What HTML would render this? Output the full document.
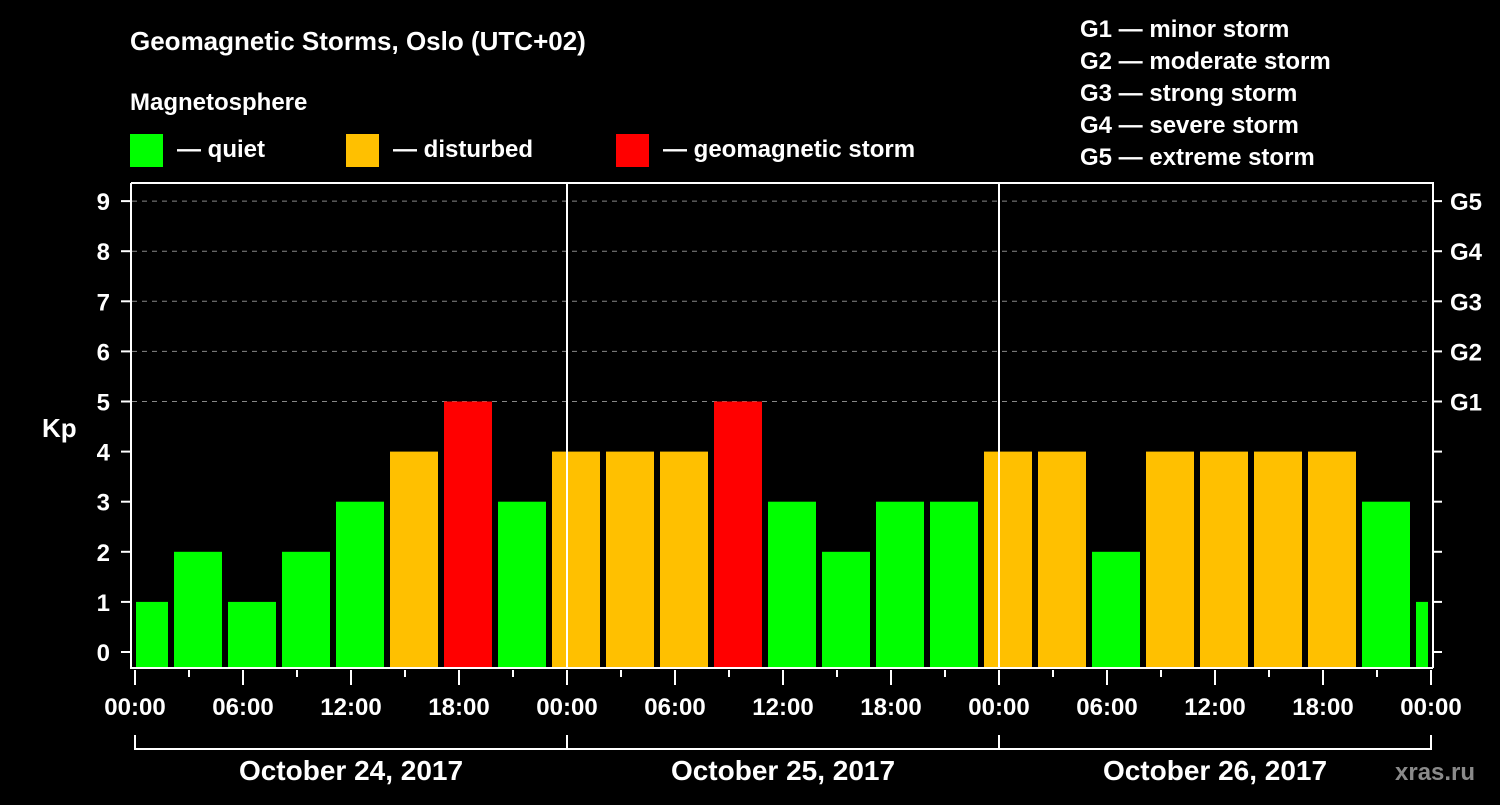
<!DOCTYPE html>
<html><head><meta charset="utf-8"><style>
body{margin:0;background:#000;width:1500px;height:800px;overflow:hidden}
svg text{font-family:"Liberation Sans",Arial,sans-serif;font-weight:bold;fill:#fff}
</style></head><body>
<svg id="c" width="1500" height="800" xmlns="http://www.w3.org/2000/svg">
<rect width="1500" height="800" fill="#000"/>
<text x="130" y="50" font-size="26">Geomagnetic Storms, Oslo (UTC+02)</text>
<text x="130" y="110" font-size="24">Magnetosphere</text>
<g><rect x="130" y="134" width="33" height="33" fill="#00ff00"/><text x="177" y="157" font-size="24">— quiet</text></g>
<g><rect x="346" y="134" width="33" height="33" fill="#ffc000"/><text x="393" y="157" font-size="24">— disturbed</text></g>
<g><rect x="616" y="134" width="33" height="33" fill="#ff0000"/><text x="663" y="157" font-size="24">— geomagnetic storm</text></g>
<g font-size="24">
<text x="1080" y="37">G1 — minor storm</text>
<text x="1080" y="69">G2 — moderate storm</text>
<text x="1080" y="101">G3 — strong storm</text>
<text x="1080" y="133">G4 — severe storm</text>
<text x="1080" y="165">G5 — extreme storm</text>
</g>
<text x="42" y="437" font-size="26">Kp</text>
<text x="1395" y="780" font-size="24" fill="#888" style="fill:#8a8a8a">xras.ru</text>
<g id="grid"></g><g id="bars"></g><g id="axes"></g>
</svg>
<script>
const kpValues=[1,2,1,2,3,4,5,3,4,4,4,5,3,2,3,3,4,4,2,4,4,4,4,3,1];
const startHours=[-1,2,5,8,11,14,17,20,23,26,29,32,35,38,41,44,47,50,53,56,59,62,65,68,71];
const dayLabels=["October 24, 2017","October 25, 2017","October 26, 2017"];
const timeLabels=["00:00","06:00","12:00","18:00"];
const gLabels=["G1","G2","G3","G4","G5"];
const NS="http://www.w3.org/2000/svg";
const X0=135,HP=18,XMAX=X0+72*HP,Y0=652,YU=50.1,TOP=183,BOT=668;
const xs=h=>X0+h*HP, ys=v=>Y0-v*YU;
function mk(p,t,a){const e=document.createElementNS(NS,t);for(const k in a)e.setAttribute(k,a[k]);document.getElementById(p).appendChild(e);return e;}
// grid
for(let v=5;v<=9;v++){const l=mk('grid','line',{x1:X0-3,x2:XMAX,y1:ys(v),y2:ys(v),stroke:'#888','stroke-dasharray':'5,5','stroke-width':1});

}
// bars
kpValues.forEach((v,i)=>{let a=xs(startHours[i])+3,b=xs(startHours[i]+3)-3;a=Math.max(a,X0+1);b=Math.min(b,XMAX-3);
const col=v>=5?'#ff0000':v>=4?'#ffc000':'#00ff00';
const r=mk('bars','rect',{x:a,y:ys(v),width:Math.max(0,b-a),height:BOT-ys(v),fill:col});

});
// axes
const W={stroke:'#fff','stroke-width':2,fill:'none'};
let f=mk('axes','path',Object.assign({d:`M131,${TOP} H1433 V${BOT} M131,${TOP} V${BOT} H1433`},W));


for(let d=1;d<3;d++){const l=mk('axes','line',Object.assign({x1:xs(d*24),x2:xs(d*24),y1:TOP,y2:BOT},W));

}
for(let v=0;v<=9;v++){mk('axes','line',Object.assign({x1:121,x2:131,y1:ys(v),y2:ys(v)},W));
const t=mk('axes','text',{x:110,y:ys(v)+9,'font-size':24,'text-anchor':'end'});t.textContent=v;


mk('axes','line',Object.assign({x1:1433,x2:1442,y1:ys(v),y2:ys(v)},W));
if(v>=5){const g=mk('axes','text',{x:1450,y:ys(v)+9,'font-size':24});g.textContent=gLabels[v-5];

}}
for(let h=0;h<=72;h+=3){const maj=h%6==0;mk('axes','line',Object.assign({x1:xs(h),x2:xs(h),y1:670,y2:maj?685:677},W));
if(maj){const t=mk('axes','text',{x:xs(h),y:715,'font-size':24,'text-anchor':'middle'});t.textContent=timeLabels[(h%24)/6];

}}
mk('axes','path',Object.assign({d:`M${X0},735 V749 H${XMAX} V735`},W));
dayLabels.forEach((s,d)=>{mk('axes','line',Object.assign({x1:xs(d*24),x2:xs(d*24),y1:735,y2:749},W));
const t=mk('axes','text',{x:xs(d*24+12),y:780,'font-size':28,'text-anchor':'middle'});t.textContent=s;

});
</script>
</body></html>
